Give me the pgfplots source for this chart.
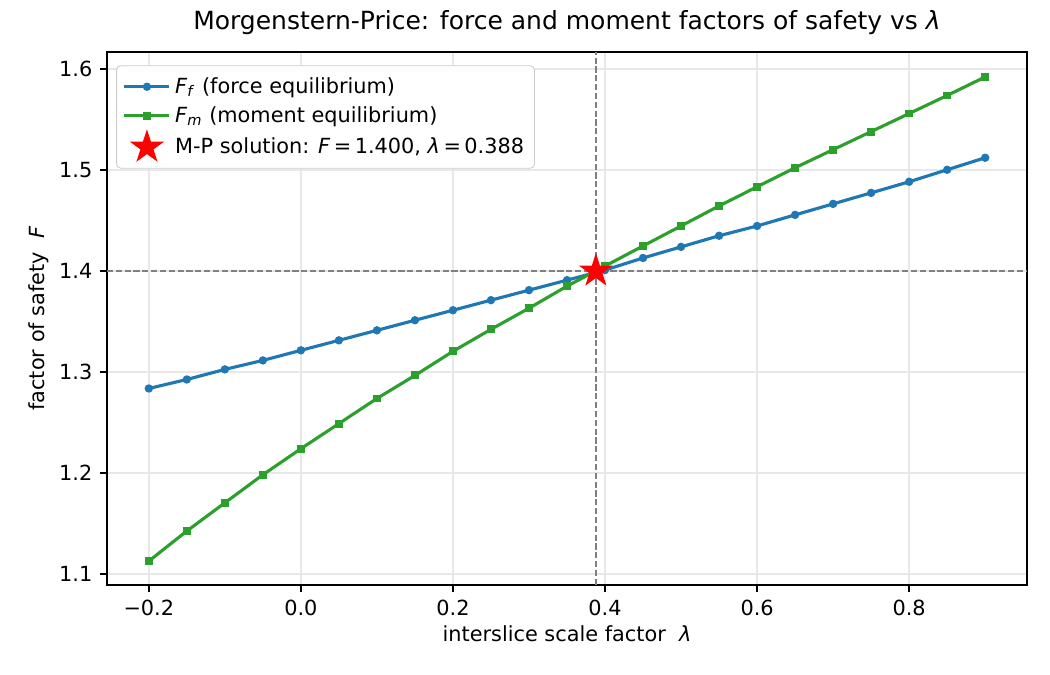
\documentclass[border=0pt]{standalone}
\usepackage{fontspec}
\setmainfont{DejaVu Sans}
\usepackage{pgfplots}
\pgfplotsset{compat=1.18}

\definecolor{mplblue}{HTML}{1F77B4}
\definecolor{mplgreen}{HTML}{2CA02C}
\definecolor{gridgray}{HTML}{E8E8E8}
\definecolor{legedge}{HTML}{CCCCCC}

% filled five-pointed star
\pgfdeclareplotmark{fstar}{%
  \pgfpathmoveto{\pgfpointpolar{90}{\pgfplotmarksize}}%
  \pgfpathlineto{\pgfpointpolar{126}{0.382\pgfplotmarksize}}%
  \pgfpathlineto{\pgfpointpolar{162}{\pgfplotmarksize}}%
  \pgfpathlineto{\pgfpointpolar{198}{0.382\pgfplotmarksize}}%
  \pgfpathlineto{\pgfpointpolar{234}{\pgfplotmarksize}}%
  \pgfpathlineto{\pgfpointpolar{270}{0.382\pgfplotmarksize}}%
  \pgfpathlineto{\pgfpointpolar{306}{\pgfplotmarksize}}%
  \pgfpathlineto{\pgfpointpolar{342}{0.382\pgfplotmarksize}}%
  \pgfpathlineto{\pgfpointpolar{18}{\pgfplotmarksize}}%
  \pgfpathlineto{\pgfpointpolar{54}{0.382\pgfplotmarksize}}%
  \pgfpathclose
  \pgfusepathqfillstroke}

% force-equilibrium factor of safety
\pgfplotstableread{
lam Ff
-0.20 1.2837
-0.15 1.2926
-0.10 1.3026
-0.05 1.3115
0.00 1.3215
0.05 1.3314
0.10 1.3413
0.15 1.3513
0.20 1.3612
0.25 1.3712
0.30 1.3811
0.35 1.3910
0.40 1.4010
0.45 1.4130
0.50 1.4240
0.55 1.4350
0.60 1.4447
0.65 1.4557
0.70 1.4666
0.75 1.4775
0.80 1.4885
0.85 1.5004
0.90 1.5123
}\forcetable

% moment-equilibrium factor of safety
\pgfplotstableread{
lam Fm
-0.20 1.1127
-0.15 1.1425
-0.10 1.1704
-0.05 1.1982
0.00 1.2240
0.05 1.2489
0.10 1.2738
0.15 1.2966
0.20 1.3205
0.25 1.3423
0.30 1.3632
0.35 1.3851
0.40 1.4050
0.45 1.4249
0.50 1.4447
0.55 1.4646
0.60 1.4835
0.65 1.5024
0.70 1.5203
0.75 1.5382
0.80 1.5561
0.85 1.5740
0.90 1.5924
}\momenttable

\begin{document}
\begin{tikzpicture}
\begin{axis}[
  name=main,
  scale only axis,
  width=441.6pt, height=255.8pt,
  xmin=-0.255, xmax=0.955,
  ymin=1.089, ymax=1.617,
  xtick={-0.2,0,0.2,0.4,0.6,0.8},
  xticklabels={−0.2,0.0,0.2,0.4,0.6,0.8},
  ytick={1.1,1.2,1.3,1.4,1.5,1.6},
  yticklabels={1.1,1.2,1.3,1.4,1.5,1.6},
  tick label style={font=\fontsize{10}{12}\selectfont},
  tick align=outside,
  tick pos=left,
  major tick length=3.5pt,
  every tick/.style={black, line width=0.8pt},
  axis line style={black, line width=0.8pt},
  grid=major,
  major grid style={gridgray, line width=0.8pt},
  title={Morgenstern-Price: force and moment factors of safety vs \textit{λ}},
  title style={font=\fontsize{12}{14}\selectfont, yshift=-1pt},
  xlabel={interslice scale factor\ \ \textit{λ}},
  ylabel={factor of safety\ \ \textit{F}},
  label style={font=\fontsize{10}{12}\selectfont},
  xlabel style={yshift=2pt},
  ylabel style={yshift=-2pt},
  legend style={
    at={(0.01,0.975)}, anchor=north west,
    draw=legedge, rounded corners=2pt,
    font=\fontsize{10}{12}\selectfont,
    row sep=0.8pt, inner xsep=3pt, inner ysep=3.5pt,
    cells={anchor=west},
  },
  legend image code/.code={%
    \draw[mark repeat=2, mark phase=2, #1]
      plot coordinates {(0cm,0cm) (0.38cm,0cm) (0.76cm,0cm)};},
]
% reference lines through the solution
\addplot[forget plot, gray, line width=0.8pt, dash pattern=on 2.96pt off 1.28pt]
  coordinates {(0.388,1.089) (0.388,1.617)};
\addplot[forget plot, gray, line width=0.8pt, dash pattern=on 2.96pt off 1.28pt]
  coordinates {(-0.255,1.4) (0.955,1.4)};

\addplot[mplblue, line width=1.5pt, mark=*, mark size=1.75pt,
  mark options={solid, fill=mplblue, draw=mplblue, line width=0.5pt}]
  table[x=lam, y=Ff] {\forcetable};
\addlegendentry{\textit{F}\textsubscript{\textit{f}} (force equilibrium)}

\addplot[mplgreen, line width=1.5pt, mark=square*, mark size=1.65pt,
  mark options={solid, fill=mplgreen, draw=mplgreen, line width=0.5pt}]
  table[x=lam, y=Fm] {\momenttable};
\addlegendentry{\textit{F}\textsubscript{\textit{m}} (moment equilibrium)}

\addplot[only marks, mark=fstar, mark size=7.8pt,
  mark options={fill=red, draw=red, line width=0.5pt}]
  coordinates {(0.388,1.400)};
\addlegendentry{M-P solution: \textit{F}\,=\,1.400, \textit{λ}\,=\,0.388}
\end{axis}
% page frame: 7in x 4.5in around the axis box
\path[use as bounding box] (main.south west) ++(-51.36pt,-43.2pt) rectangle ++(504pt,324pt);
\end{tikzpicture}
\end{document}
